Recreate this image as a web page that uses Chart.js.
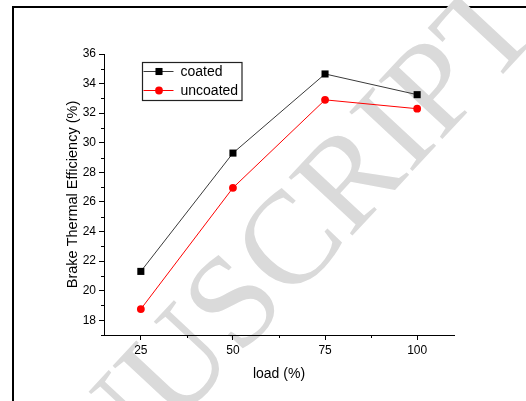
<!DOCTYPE html>
<html>
<head>
<meta charset="utf-8">
<script src="https://cdn.jsdelivr.net/npm/chart.js@4/dist/chart.umd.min.js"></script>
<style>
html,body{margin:0;padding:0;background:#fff;overflow:hidden}
#wrap{position:relative;width:526px;height:401px;overflow:hidden}
#frame{position:absolute;left:12px;top:6px;width:540px;height:420px;border-left:2px solid #000;border-top:2px solid #000;box-sizing:border-box}
canvas{position:absolute;left:0;top:0}
</style>
</head>
<body>
<div id="wrap">
<div id="frame"></div>
<canvas id="c" width="526" height="401"></canvas>
</div>
<script>
const categories = [25, 50, 75, 100];
const coated = [21.3, 29.3, 34.65, 33.25];
const uncoated = [18.75, 26.95, 32.9, 32.3];
const seriesNames = ['coated', 'uncoated'];
const xTicks = [25, 50, 75, 100];
const yTicks = [18, 20, 22, 24, 26, 28, 30, 32, 34, 36];
const xMinorTicks = [37.5, 62.5, 87.5];
const yMinorTicks = [17, 19, 21, 23, 25, 27, 29, 31, 33, 35];
const xTitle = 'load (%)';
const yTitle = 'Brake Thermal Efficiency (%)';
const watermark = 'MANUSCRIPT';

const FONT = "'Liberation Sans', Arial, sans-serif";

const watermarkPlugin = {
  id: 'wm',
  beforeDraw(chart) {
    const ctx = chart.ctx;
    ctx.save();
    ctx.translate(-36, 652);
    ctx.rotate(-47 * Math.PI / 180);
    ctx.font = "132px 'Liberation Serif', 'DejaVu Serif', serif";
    ctx.fillStyle = '#dadada';
    ctx.textBaseline = 'alphabetic';
    ctx.fillText(watermark, 0, 0);
    ctx.restore();
  }
};

const minorTickPlugin = {
  id: 'minorTicks',
  afterDraw(chart) {
    const ctx = chart.ctx;
    const xs = chart.scales.x, ys = chart.scales.y;
    ctx.save();
    ctx.strokeStyle = '#000';
    ctx.lineWidth = 1;
    ctx.beginPath();
    xMinorTicks.forEach(v => {
      const px = Math.round(xs.getPixelForValue(v)) + 0.5;
      ctx.moveTo(px, xs.top);
      ctx.lineTo(px, xs.top + 3);
    });
    yMinorTicks.forEach(v => {
      const py = Math.round(ys.getPixelForValue(v)) + 0.5;
      ctx.moveTo(ys.right - 3, py);
      ctx.lineTo(ys.right, py);
    });
    ctx.stroke();
    ctx.restore();
  }
};

const legendPlugin = {
  id: 'boxLegend',
  afterDraw(chart) {
    const ctx = chart.ctx;
    const a = chart.chartArea;
    const bx = a.left + 38.5, by = a.top + 8.5, bw = 99.5, bh = 38;
    ctx.save();
    ctx.strokeStyle = '#222';
    ctx.lineWidth = 1.2;
    ctx.strokeRect(bx, by, bw, bh);
    chart.data.datasets.forEach((ds, i) => {
      const y = by + 9 + i * 19;
      ctx.strokeStyle = ds.borderColor;
      ctx.lineWidth = 1;
      ctx.beginPath();
      ctx.moveTo(bx + 1, y);
      ctx.lineTo(bx + 31, y);
      ctx.stroke();
      ctx.fillStyle = ds.pointBackgroundColor;
      ctx.beginPath();
      if (ds.pointStyle === 'rect') {
        const s = ds.pointRadius * Math.SQRT1_2;
        ctx.rect(bx + 16.5 - s, y - s, 2 * s, 2 * s);
      } else {
        ctx.arc(bx + 16.5, y, ds.pointRadius, 0, Math.PI * 2);
      }
      ctx.fill();
      ctx.fillStyle = '#000';
      ctx.font = '14px ' + FONT;
      ctx.textBaseline = 'middle';
      ctx.fillText(ds.label, bx + 38, y + 0.5);
    });
    ctx.restore();
  }
};

const toPts = arr => categories.map((c, i) => ({ x: c, y: arr[i] }));

new Chart(document.getElementById('c'), {
  type: 'line',
  data: {
    datasets: [
      {
        label: seriesNames[0],
        data: toPts(coated),
        borderColor: '#3a3a3a',
        borderWidth: 1,
        pointStyle: 'rect',
        pointRadius: 5,
        pointBackgroundColor: '#000',
        pointBorderColor: '#000',
        pointBorderWidth: 0,
        tension: 0
      },
      {
        label: seriesNames[1],
        data: toPts(uncoated),
        borderColor: '#ff0000',
        borderWidth: 1,
        pointStyle: 'circle',
        pointRadius: 3.9,
        pointBackgroundColor: '#ff0000',
        pointBorderColor: '#ff0000',
        pointBorderWidth: 0,
        tension: 0
      }
    ]
  },
  options: {
    responsive: false,
    animation: false,
    events: [],
    layout: { padding: { left: 0, top: 54, right: 72, bottom: 0 } },
    plugins: { legend: { display: false }, tooltip: { enabled: false }, title: { display: false } },
    scales: {
      x: {
        type: 'linear',
        min: 15,
        max: 110,
        afterBuildTicks: s => { s.ticks = xTicks.map(v => ({ value: v })); },
        afterFit: s => { s.height = 66; },
        grid: { drawOnChartArea: false, drawTicks: true, tickLength: 5, color: '#000', lineWidth: 1 },
        border: { display: true, color: '#000', width: 1 },
        ticks: { color: '#000', font: { family: FONT, size: 12 }, padding: 3, maxRotation: 0, autoSkip: false },
        title: { display: true, text: xTitle, color: '#000', font: { family: FONT, size: 14 }, padding: { top: 0, bottom: 18 } }
      },
      y: {
        type: 'linear',
        min: 17,
        max: 36,
        afterBuildTicks: s => { s.ticks = yTicks.map(v => ({ value: v })); },
        afterFit: s => { s.width = 104; },
        grid: { drawOnChartArea: false, drawTicks: true, tickLength: 5, color: '#000', lineWidth: 1 },
        border: { display: true, color: '#000', width: 1 },
        ticks: { color: '#000', font: { family: FONT, size: 12 }, padding: 3, autoSkip: false },
        title: { display: true, text: yTitle, color: '#000', font: { family: FONT, size: 14.5 }, padding: { top: 64, bottom: 0 } }
      }
    }
  },
  plugins: [watermarkPlugin, minorTickPlugin, legendPlugin]
});
</script>
</body>
</html>
